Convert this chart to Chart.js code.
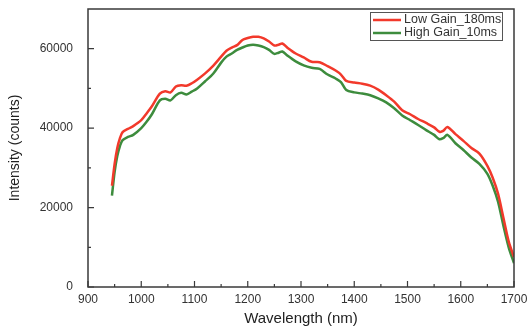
<!DOCTYPE html>
<html>
<head>
<meta charset="utf-8">
<script src="https://cdn.jsdelivr.net/npm/chart.js@4"></script>
<style>
  html, body { margin: 0; padding: 0; background: #fff; }
  #wrap { width: 528px; height: 328px; }
</style>
</head>
<body>
<div id="wrap"><canvas id="chartCanvas" width="528" height="328"></canvas></div>
<script>
// データ
const wavelengths = [945, 950, 955, 960, 965, 975, 985, 1000, 1010, 1020, 1035, 1045, 1055, 1065, 1075, 1085, 1095, 1105, 1120, 1135,
  1150, 1160, 1170, 1180, 1190, 1200, 1210, 1220, 1230, 1240, 1250, 1258, 1265, 1275, 1290, 1305, 1320, 1335, 1350, 1365,
  1375, 1385, 1400, 1415, 1430, 1445, 1460, 1475, 1490, 1505, 1520, 1535, 1550, 1560, 1567, 1575, 1590, 1605, 1620, 1635,
  1650, 1660, 1670, 1680, 1690, 1700];
const lowGain = [25500, 31000, 35000, 37500, 39000, 39800, 40500, 42000, 43700, 45500, 48700, 49300, 49000, 50500, 50800, 50700, 51300, 52200, 53800, 55700,
  58000, 59500, 60300, 60900, 62200, 62700, 63000, 63000, 62600, 61800, 60800, 61000, 61300, 60200, 58800, 57800, 56700, 56600, 55600, 54500,
  53500, 51900, 51500, 51200, 50700, 49700, 48300, 46700, 44500, 43500, 42300, 41300, 40200, 39100, 39300, 40300, 38500, 36800, 35000, 33600,
  30500, 27500, 23500, 17500, 11500, 7500];
const highGain = [23000, 29000, 33000, 35500, 37000, 37800, 38300, 40000, 41600, 43500, 47000, 47400, 47000, 48300, 48900, 48500, 49200, 50000, 51800, 53700,
  56500, 58000, 58800, 59700, 60300, 60800, 61000, 60800, 60400, 59700, 58700, 59000, 59300, 58200, 56800, 55800, 55200, 54900, 53500, 52500,
  51600, 49600, 49000, 48700, 48300, 47500, 46500, 45000, 43200, 42000, 40800, 39500, 38300, 37200, 37500, 38300, 36200, 34500, 32600, 31000,
  28500, 25500, 21500, 15500, 10000, 6000];
const seriesLabels = ['Low Gain_180ms', 'High Gain_10ms'];
const xTicks = [900, 1000, 1100, 1200, 1300, 1400, 1500, 1600, 1700];
const xMinorTicks = [950, 1050, 1150, 1250, 1350, 1450, 1550, 1650];
const yTicks = [0, 20000, 40000, 60000];
const yMinorTicks = [10000, 30000, 50000];

const axisColor = '#3a3a3a';
const textColor = '#333333';
const fontFamily = '"Liberation Sans", Arial, sans-serif';

function toPoints(xs, ys) {
  return xs.map((x, i) => ({ x: x, y: ys[i] }));
}

// 枠と内向きの目盛り
const frameTicks = {
  id: 'frameTicks',
  afterDatasetsDraw(chart) {
    const { ctx, chartArea: a, scales } = chart;
    const xs = scales.x, ys = scales.y;
    ctx.save();
    ctx.strokeStyle = axisColor;
    ctx.lineWidth = 1.5;
    ctx.strokeRect(a.left, a.top, a.right - a.left, a.bottom - a.top);
    ctx.lineWidth = 1.2;
    ctx.beginPath();
    xTicks.forEach(v => { const p = xs.getPixelForValue(v); ctx.moveTo(p, a.bottom); ctx.lineTo(p, a.bottom - 6); });
    xMinorTicks.forEach(v => { const p = xs.getPixelForValue(v); ctx.moveTo(p, a.bottom); ctx.lineTo(p, a.bottom - 3); });
    yTicks.forEach(v => { const p = ys.getPixelForValue(v); ctx.moveTo(a.left, p); ctx.lineTo(a.left + 6, p); });
    yMinorTicks.forEach(v => { const p = ys.getPixelForValue(v); ctx.moveTo(a.left, p); ctx.lineTo(a.left + 3, p); });
    ctx.stroke();

    // 凡例
    const bx = 370, by = 12, bw = 132, bh = 28;
    ctx.fillStyle = '#fff';
    ctx.fillRect(bx, by, bw, bh);
    ctx.strokeStyle = '#555';
    ctx.lineWidth = 1;
    ctx.strokeRect(bx + 0.5, by + 0.5, bw, bh);
    ctx.font = '12.5px ' + fontFamily;
    ctx.textBaseline = 'middle';
    chart.data.datasets.forEach((ds, i) => {
      const yy = by + 8 + i * 13;
      ctx.strokeStyle = ds.borderColor;
      ctx.lineWidth = 2.5;
      ctx.beginPath();
      ctx.moveTo(bx + 3, yy);
      ctx.lineTo(bx + 31, yy);
      ctx.stroke();
      ctx.fillStyle = textColor;
      ctx.fillText(ds.label, bx + 34, yy);
    });
    ctx.restore();
  }
};

const ctx = document.getElementById('chartCanvas').getContext('2d');
const chart = new Chart(ctx, {
  type: 'line',
  data: {
    datasets: [
      { label: seriesLabels[0], data: toPoints(wavelengths, lowGain), borderColor: '#f2392b', borderWidth: 2.5, pointRadius: 0, tension: 0.3, fill: false },
      { label: seriesLabels[1], data: toPoints(wavelengths, highGain), borderColor: '#3d8c3d', borderWidth: 2.5, pointRadius: 0, tension: 0.3, fill: false }
    ]
  },
  options: {
    responsive: false,
    animation: false,
    layout: { padding: { top: 9, right: 14, left: 0, bottom: 0 } },
    plugins: { legend: { display: false }, tooltip: { enabled: false } },
    scales: {
      x: {
        type: 'linear', min: 900, max: 1700,
        afterBuildTicks: s => { s.ticks = xTicks.map(v => ({ value: v })); },
        afterFit: s => { s.height = 41; s.paddingLeft = 0; s.paddingRight = 0; },
        grid: { display: false, drawTicks: false },
        border: { display: false },
        ticks: { padding: 5, color: textColor, font: { family: fontFamily, size: 12 }, maxRotation: 0, callback: v => String(v) },
        title: { display: true, text: 'Wavelength (nm)', color: '#222', font: { family: fontFamily, size: 15 }, padding: { top: 0, bottom: 0 } }
      },
      y: {
        type: 'linear', min: 0, max: 70000,
        afterBuildTicks: s => { s.ticks = yTicks.map(v => ({ value: v })); },
        afterFit: s => { s.width = 88; s.paddingTop = 0; s.paddingBottom = 0; },
        grid: { display: false, drawTicks: false },
        border: { display: false },
        ticks: { padding: 15, color: textColor, font: { family: fontFamily, size: 12 }, callback: v => String(v) },
        title: { display: true, text: 'Intensity (counts)', color: '#222', font: { family: fontFamily, size: 14 }, padding: { top: 7, bottom: 0 } }
      }
    }
  },
  plugins: [frameTicks]
});
</script>
</body>
</html>
